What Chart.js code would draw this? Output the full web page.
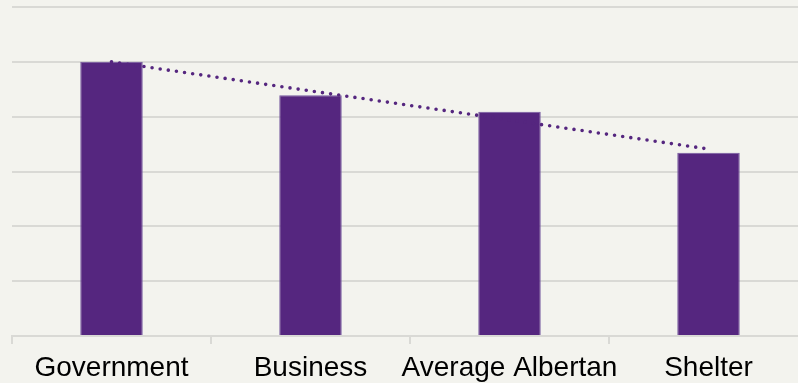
<!DOCTYPE html>
<html>
<head>
<meta charset="utf-8">
<script src="https://cdn.jsdelivr.net/npm/chart.js@4/dist/chart.umd.min.js"></script>
<style>
  html, body { margin: 0; padding: 0; background: #f3f3ee; overflow: hidden; }
  #wrap { position: relative; width: 808px; height: 390px; }
</style>
</head>
<body>
<div id="wrap"><canvas id="c"></canvas></div>
<script>
const categories = ['Government', 'Business', 'Average Albertan', 'Shelter'];
const barValues = [5.0, 4.39, 4.09, 3.34];
const trendValues = [5.0, null, null, 3.41];
const yTicks = [0, 1, 2, 3, 4, 5, 6];

const purple = '#55267f';
const grid = '#d9d9d5';

new Chart(document.getElementById('c'), {
  data: {
    labels: categories,
    datasets: [
      {
        type: 'line',
        data: trendValues,
        spanGaps: true,
        borderColor: purple,
        borderWidth: 3.6,
        borderDash: [0, 8.2],
        borderCapStyle: 'round',
        pointRadius: 0,
        fill: false,
        order: 0
      },
      {
        type: 'bar',
        data: barValues,
        backgroundColor: purple,
        borderColor: '#7659a0',
        borderWidth: 1,
        barPercentage: 0.314,
        categoryPercentage: 1,
        order: 1
      }
    ]
  },
  options: {
    responsive: true,
    maintainAspectRatio: false,
    animation: false,
    events: [],
    layout: { padding: { top: 7, left: 12, right: 0, bottom: 0 } },
    plugins: { legend: { display: false }, tooltip: { enabled: false } },
    scales: {
      x: {
        offset: true,
        afterFit: (s) => { s.height = 54; },
        grid: { drawOnChartArea: false, drawTicks: true, tickLength: 8, color: grid, lineWidth: 2 },
        border: { display: true, color: grid, width: 2 },
        ticks: { color: '#000', font: { family: 'Liberation Sans, Arial, sans-serif', size: 28 }, padding: 7, maxRotation: 0, minRotation: 0, autoSkip: false }
      },
      y: {
        min: yTicks[0],
        max: yTicks[yTicks.length - 1],
        afterBuildTicks: (s) => { s.ticks = yTicks.map(v => ({ value: v })); },
        afterFit: (s) => { s.width = 0; },
        ticks: { display: false },
        grid: { color: grid, lineWidth: 2, drawTicks: false },
        border: { display: false }
      }
    }
  }
});
</script>
</body>
</html>
